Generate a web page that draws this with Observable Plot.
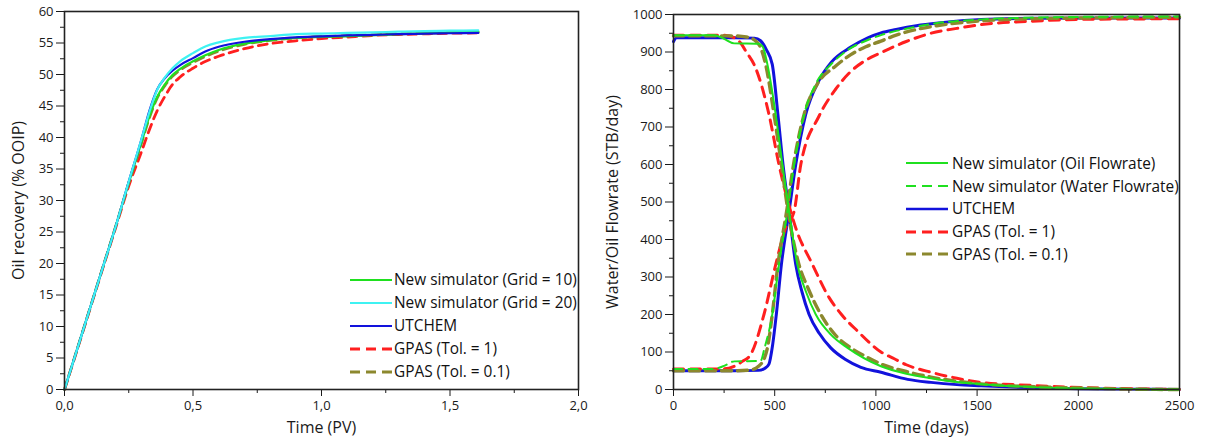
<!DOCTYPE html>
<html><head><meta charset="utf-8">
<script src="https://cdn.jsdelivr.net/npm/d3@7"></script>
<script src="https://cdn.jsdelivr.net/npm/@observablehq/plot@0.6"></script>
<style>
body{margin:0;background:#fff;font-family:"Open Sans",sans-serif;}
#wrap{position:relative;width:1205px;height:444px;overflow:hidden;background:#fff}
.panel{position:absolute;top:0}
.legend{position:absolute;font-family:"Open Sans",sans-serif;font-size:15.4px;color:#111;white-space:nowrap}
.legend .row{display:flex;align-items:center}
.legend svg{display:block}
</style></head><body><div id="wrap"></div>
<script>
// ---------- Left panel: oil recovery vs time (PV) ----------
const pvGrid    = [0,0.05,0.1,0.15,0.2,0.25,0.3,0.33,0.36,0.39,0.42,0.45,0.5,0.55,0.6,0.7,0.8,0.9,1.0,1.1,1.2,1.3,1.4,1.5,1.61];
const recGrid10 = [0,6.5,13,19.5,26,32.8,39.3,43.3,46.4,48.4,49.9,50.9,52.1,53.1,53.9,54.9,55.45,55.8,56.0,56.1,56.25,56.4,56.55,56.7,56.8];
const recGrid20 = [0,6.5,13,19.5,26,33,39.8,44,47.5,49.5,51,52.1,53.4,54.5,55.1,55.8,56.1,56.4,56.5,56.6,56.7,56.8,56.9,56.95,57.0];
const recUtchem = [0,6.5,13,19.5,26,33,39.8,44.2,47.6,49.4,50.6,51.5,52.6,53.7,54.4,55.2,55.6,55.9,56.05,56.2,56.3,56.4,56.5,56.55,56.6];
const recGpas1  = [0,6.4,12.9,19.4,25.8,32.3,37.8,41.2,44.2,46.5,48.4,49.6,51.0,52.1,52.9,54.1,54.9,55.35,55.7,55.95,56.2,56.35,56.45,56.55,56.6];
const recGpas01 = [0,6.5,13,19.5,26,32.8,39.2,43.1,46.2,48.2,49.7,50.7,51.9,52.9,53.7,54.8,55.4,55.8,56.0,56.15,56.3,56.45,56.55,56.65,56.7];
const leftXTicks = [0,0.5,1.0,1.5,2.0];
const leftXMinor = [0.25,0.75,1.25,1.75];
const leftYTicks = [0,5,10,15,20,25,30,35,40,45,50,55,60];
const leftYMinor = [2.5,7.5,12.5,17.5,22.5,27.5,32.5,37.5,42.5,47.5,52.5,57.5];

// ---------- Right panel: flowrates vs time (days) ----------
const newOil = [[0,945],[200,945],[250,935],[300,923],[420,922],[440,915],[464,867],[505,733],[538,600],[571,475],[612,333],[655,260],[703,200],[780,145],[860,111],[1025,62],[1150,42],[1272,30],[1400,20],[1520,14],[1750,7],[2000,3],[2250,1],[2500,0]];
const newWater = [[0,55],[200,55],[250,63],[300,75],[430,76],[450,111],[488,200],[521,333],[563,475],[596,600],[645,733],[703,815],[780,868],[860,905],[960,932],[1025,945],[1150,962],[1289,976],[1520,987],[1800,992],[2100,994],[2500,995]];
const utOil = [[0,928],[15,938],[300,938],[400,937],[430,930],[460,905],[488,867],[516,733],[541,600],[571,475],[604,333],[635,260],[670,200],[720,150],[777,111],[850,80],[926,59],[1025,46],[1157,27],[1272,19],[1400,13],[1520,10],[1750,5],[2000,2],[2250,1],[2500,0]];
const utWater = [[0,50],[300,50],[420,51],[450,56],[471,67],[490,120],[508,200],[533,333],[571,475],[604,600],[653,733],[720,825],[780,873],[876,913],[960,938],[1025,951],[1100,960],[1200,970],[1322,978],[1520,987],[1800,990],[2100,991],[2500,991]];
const gpas1Oil = [[0,945],[250,945],[300,938],[332,924],[360,900],[398,867],[472,733],[521,600],[579,475],[604,431],[687,333],[769,245],[830,200],[909,156],[1025,100],[1091,82],[1150,66],[1272,46],[1400,30],[1520,19],[1767,11],[2015,5],[2250,2],[2500,0]];
const gpas1Water = [[0,55],[250,55],[300,62],[340,75],[381,93],[447,200],[505,333],[554,431],[596,475],[629,600],[720,730],[800,800],[870,845],[950,878],[1025,898],[1150,928],[1272,950],[1400,963],[1520,973],[1767,982],[2015,987],[2250,988],[2500,989]];
const gpas01Oil = [[0,943],[300,943],[360,940],[400,932],[430,912],[455,867],[497,733],[533,600],[566,475],[620,333],[665,270],[728,200],[800,145],[876,111],[960,85],[1025,68],[1150,48],[1272,33],[1400,22],[1520,15],[1750,8],[2000,4],[2250,1],[2500,0]];
const gpas01Water = [[0,50],[300,50],[380,52],[420,62],[450,85],[464,111],[488,200],[516,333],[559,475],[593,600],[645,733],[711,815],[800,862],[876,893],[950,914],[1025,929],[1100,945],[1200,960],[1300,970],[1520,983],[1800,989],[2100,991],[2500,993]];
const rightXTicks = [0,500,1000,1500,2000,2500];
const rightXMinor = [250,750,1250,1750,2250];
const rightYTicks = [0,100,200,300,400,500,600,700,800,900,1000];
const rightYMinor = [50,150,250,350,450,550,650,750,850,950];

const C = {green:"#1fe01f", cyan:"#3ff2f2", blue:"#1212dc", red:"#ff1f1f", olive:"#8c882e"};

const leftSeries = [
  {name:"New simulator (Grid = 10)", y:recGrid10, color:C.green, w:2.2, dash:null},
  {name:"New simulator (Grid = 20)", y:recGrid20, color:C.cyan,  w:2.2, dash:null},
  {name:"UTCHEM",                    y:recUtchem, color:C.blue,  w:2.2, dash:null},
  {name:"GPAS (Tol. = 1)",           y:recGpas1,  color:C.red,   w:2.8, dash:"9,6"},
  {name:"GPAS (Tol. = 0.1)",         y:recGpas01, color:C.olive, w:2.8, dash:"9,6"}
];
const leftDrawOrder = [3,4,0,2,1];

const rightLegend = [
  {name:"New simulator (Oil Flowrate)",   color:C.green, w:2.2, dash:null},
  {name:"New simulator (Water Flowrate)", color:C.green, w:2.2, dash:"9,6"},
  {name:"UTCHEM",                         color:C.blue,  w:2.4, dash:null},
  {name:"GPAS (Tol. = 1)",                color:C.red,   w:2.8, dash:"9,6"},
  {name:"GPAS (Tol. = 0.1)",              color:C.olive, w:2.8, dash:"9,6"}
];
const rightLines = [
  {data:utOil, color:C.blue, w:3, dash:null},
  {data:utWater, color:C.blue, w:3, dash:null},
  {data:gpas1Oil, color:C.red, w:3, dash:"10,7"},
  {data:gpas1Water, color:C.red, w:3, dash:"10,7"},
  {data:gpas01Oil, color:C.olive, w:3.4, dash:"10,6"},
  {data:gpas01Water, color:C.olive, w:3.4, dash:"10,6"},
  {data:newOil, color:C.green, w:2, dash:null},
  {data:newWater, color:C.green, w:2, dash:"9,6"}
];

const fmtComma = d => d.toFixed(1).replace(".", ",");
const fmtPlain = d => String(d);
const styleBase = {fontFamily:"'Open Sans', sans-serif", fontSize:"13px", color:"#1a1a1a", background:"#fff", overflow:"visible"};

function axes(xT, xM, yT, yM, xFmt) {
  return [
    Plot.axisX({ticks:xT, tickSize:7, tickPadding:4, tickFormat:xFmt, label:null, fontSize:13}),
    Plot.axisX({ticks:xM, tickSize:4, tickFormat:()=>"", label:null}),
    Plot.axisY({ticks:yT, tickSize:8, tickPadding:3, tickFormat:fmtPlain, label:null, fontSize:13}),
    Plot.axisY({ticks:yM, tickSize:4, tickFormat:()=>"", label:null}),
    Plot.frame({stroke:"#222", strokeWidth:1.6})
  ];
}

// Left plot
const leftPlot = Plot.plot({
  width:600, height:444,
  marginLeft:64, marginRight:22, marginTop:11, marginBottom:55,
  x:{domain:[0,2]}, y:{domain:[0,60]},
  style:styleBase,
  marks:[
    ...leftDrawOrder.map(i => {
      const s = leftSeries[i];
      return Plot.line(pvGrid.map((x,k)=>({x, y:s.y[k]})), {x:"x", y:"y", stroke:s.color, strokeWidth:s.w, strokeDasharray:s.dash, curve:"monotone-x"});
    }),
    ...axes(leftXTicks, leftXMinor, leftYTicks, leftYMinor, fmtComma),
    Plot.text(["Time (PV)"], {text:d=>d, frameAnchor:"bottom", textAnchor:"middle", dy:43, fontSize:16, fill:"#1a1a1a"}),
    Plot.text(["Oil recovery (% OOIP)"], {text:d=>d, frameAnchor:"left", textAnchor:"middle", rotate:-90, dx:-46, fontSize:16, fill:"#1a1a1a"})
  ]
});

// Right plot
const rightPlot = Plot.plot({
  width:605, height:444,
  marginLeft:73, marginRight:26, marginTop:14, marginBottom:55,
  x:{domain:[0,2500]}, y:{domain:[0,1000]},
  style:styleBase,
  marks:[
    ...rightLines.map(s => Plot.line(s.data, {x:d=>d[0], y:d=>d[1], stroke:s.color, strokeWidth:s.w, strokeDasharray:s.dash, curve:"monotone-x"})),
    ...axes(rightXTicks, rightXMinor, rightYTicks, rightYMinor, fmtPlain),
    Plot.text(["Time (days)"], {text:d=>d, frameAnchor:"bottom", textAnchor:"middle", dy:43, fontSize:16, fill:"#1a1a1a"}),
    Plot.text(["Water/Oil Flowrate (STB/day)"], {text:d=>d, frameAnchor:"left", textAnchor:"middle", rotate:-90, dx:-61, fontSize:16, fill:"#1a1a1a"})
  ]
});

const wrap = document.getElementById("wrap");
function place(el, left){ const d=document.createElement("div"); d.className="panel"; d.style.left=left+"px"; d.appendChild(el); wrap.appendChild(d); }
place(leftPlot, 0);
place(rightPlot, 600);

function legend(items, left, top, rowH, swW, gap) {
  const lg = document.createElement("div");
  lg.className = "legend";
  lg.style.left = left+"px"; lg.style.top = top+"px";
  items.forEach(it => {
    const row = document.createElement("div");
    row.className = "row"; row.style.height = rowH+"px";
    const ns = "http://www.w3.org/2000/svg";
    const svg = document.createElementNS(ns,"svg");
    svg.setAttribute("width", swW); svg.setAttribute("height", 10);
    svg.style.marginRight = gap+"px";
    const ln = document.createElementNS(ns,"line");
    ln.setAttribute("x1",0); ln.setAttribute("x2",swW); ln.setAttribute("y1",5); ln.setAttribute("y2",5);
    ln.setAttribute("stroke", it.color); ln.setAttribute("stroke-width", it.w);
    if (it.dash) ln.setAttribute("stroke-dasharray", "10,6");
    svg.appendChild(ln);
    row.appendChild(svg);
    const t = document.createElement("span"); t.textContent = it.name;
    row.appendChild(t);
    lg.appendChild(row);
  });
  wrap.appendChild(lg);
}
legend(leftSeries, 350, 268, 23, 42, 2);
legend(rightLegend, 906, 152, 22.75, 42, 4);
</script>
</body></html>
